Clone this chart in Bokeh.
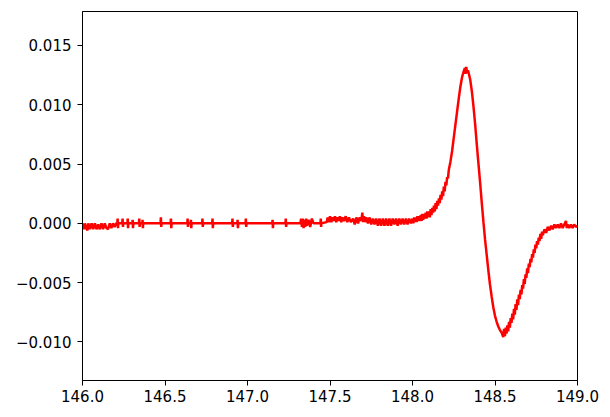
from bokeh.plotting import figure
from bokeh.models import FixedTicker, Range1d
from bokeh.embed import file_html
from bokeh.resources import INLINE

# ---- data (field in mT, signal in a.u.) ----
# segment 1: flat baseline with isolated noise spikes (146.0 - 148.0)
field_base = [
    146.000, 146.005, 146.010, 146.015, 146.020, 146.030, 146.035, 146.045, 146.055, 146.065,
    146.075, 146.085, 146.095, 146.105, 146.115, 146.125, 146.135, 146.145, 146.155, 146.165,
    146.175, 146.185, 146.195, 146.205,
    146.211, 146.213, 146.215, 146.217,
    146.241, 146.243, 146.245, 146.247,
    146.272, 146.274, 146.276, 146.278,
    146.302, 146.304, 146.306, 146.308,
    146.342, 146.344, 146.346, 146.348,
    146.362, 146.364, 146.366, 146.368,
    146.473, 146.475, 146.477, 146.479,
    146.534, 146.536, 146.538, 146.540,
    146.635, 146.637, 146.639, 146.641,
    146.655, 146.657, 146.659, 146.661,
    146.725, 146.727, 146.729, 146.731,
    146.786, 146.788, 146.790, 146.792,
    146.907, 146.909, 146.911, 146.913,
    146.938, 146.940, 146.942, 146.944,
    146.988, 146.990, 146.992, 146.994,
    147.150, 147.152, 147.154, 147.156,
    147.230, 147.232, 147.234, 147.236,
    147.320, 147.325, 147.330, 147.335, 147.340, 147.345, 147.350, 147.355, 147.360, 147.370,
    147.380, 147.390, 147.400,
    147.442, 147.444, 147.446, 147.448,
    147.480, 147.486, 147.492, 147.500, 147.508, 147.515, 147.522, 147.530, 147.538, 147.545,
    147.552, 147.560, 147.568, 147.575, 147.585, 147.595, 147.605, 147.615, 147.626,
    147.640, 147.650, 147.660, 147.670, 147.680, 147.690, 147.696, 147.700, 147.706, 147.712,
    147.720, 147.730, 147.740, 147.750, 147.760, 147.770, 147.780,
    147.790, 147.800, 147.810, 147.820, 147.830, 147.840, 147.850, 147.860, 147.870,
    147.880, 147.890, 147.900, 147.910, 147.920, 147.930, 147.940, 147.950, 147.960, 147.970,
    147.980, 147.990,
]
signal_base = [
    -0.0005, 0.0000, -0.0005, 0.0000, -0.0003, -0.0006, 0.0000, -0.0005, 0.0000, -0.0005,
    0.0000, -0.0005, -0.0001, -0.0005, 0.0000, -0.0005, 0.0000, -0.0004, -0.0005, 0.0000,
    -0.0004, 0.0000, -0.0003, 0.0000,
    0.0000, 0.0004, -0.0004, 0.0000,
    0.0000, 0.0004, -0.0003, 0.0000,
    0.0000, 0.0004, -0.0004, 0.0000,
    0.0000, 0.0003, -0.0004, 0.0000,
    0.0000, 0.0004, -0.0003, 0.0000,
    0.0000, 0.0003, -0.0004, 0.0000,
    0.0000, 0.0005, -0.0003, 0.0000,
    0.0000, 0.0004, -0.0004, 0.0000,
    0.0000, 0.0004, -0.0003, 0.0000,
    0.0000, 0.0003, -0.0004, 0.0000,
    0.0000, 0.0004, -0.0003, 0.0000,
    0.0000, 0.0004, -0.0004, 0.0000,
    0.0000, 0.0004, -0.0003, 0.0000,
    0.0000, 0.0003, -0.0004, 0.0000,
    0.0000, 0.0004, -0.0003, 0.0000,
    0.0000, 0.0003, -0.0004, 0.0000,
    0.0000, 0.0004, -0.0003, 0.0000,
    0.0000, 0.0004, -0.0003, 0.0004, -0.0004, 0.0003, -0.0003, 0.0004, -0.0002, 0.0003,
    -0.0003, 0.0004, 0.0000,
    0.0000, 0.0004, -0.0003, 0.0000,
    0.0001, 0.0005, 0.0001, 0.0006, 0.0001, 0.0005, 0.0002, 0.0006, 0.0001, 0.0005,
    0.0002, 0.0006, 0.0001, 0.0005, 0.0002, 0.0006, 0.0001, 0.0005, 0.0001,
    0.0004, -0.0001, 0.0005, 0.0000, 0.0005, 0.0002, 0.0009, 0.0001, 0.0006, 0.0001,
    0.0005, 0.0000, 0.0005, -0.0001, 0.0004, -0.0001, 0.0004,
    -0.0002, 0.0004, -0.0002, 0.0004, -0.0002, 0.0004, -0.0002, 0.0004, -0.0002,
    0.0004, -0.0001, 0.0004, -0.0002, 0.0004, -0.0001, 0.0004, -0.0001, 0.0004, -0.0001,
    0.0004, 0.0000,
]

# segment 2: noisy rise towards the positive lobe (148.0 - 148.24)
field_rise = [
    148.000, 148.005, 148.010, 148.015, 148.020, 148.025, 148.030, 148.035, 148.040, 148.045,
    148.050, 148.055, 148.060, 148.065, 148.070, 148.075, 148.080, 148.085, 148.090, 148.095,
    148.100, 148.105, 148.110, 148.115, 148.120, 148.125, 148.130, 148.135, 148.140, 148.145,
    148.150, 148.155, 148.160, 148.165, 148.170, 148.175, 148.180, 148.185, 148.190, 148.195,
    148.200, 148.205, 148.210, 148.215, 148.220, 148.230, 148.240,
]
signal_rise = [
    0.0004, 0.0000, 0.0005, 0.0001, 0.0005, 0.0001, 0.0006, 0.0002, 0.0006, 0.0002,
    0.0007, 0.0002, 0.0008, 0.0003, 0.0008, 0.0004, 0.0009, 0.0004, 0.0010, 0.0005,
    0.0010, 0.0005, 0.0012, 0.0007, 0.0013, 0.0009, 0.0015, 0.0010, 0.0017, 0.0012,
    0.0019, 0.0015, 0.0021, 0.0017, 0.0024, 0.0020, 0.0027, 0.0023, 0.0031, 0.0027,
    0.0035, 0.0032, 0.0039, 0.0038, 0.0045, 0.0052, 0.0061,
]

# segment 3: positive peak, steep fall and negative lobe (148.25 - 148.545)
field_peak = [
    148.250, 148.260, 148.270, 148.280, 148.290, 148.300, 148.310, 148.318, 148.322, 148.326,
    148.330, 148.336, 148.340, 148.350, 148.360, 148.370, 148.380, 148.390, 148.400, 148.410,
    148.420, 148.430, 148.440, 148.450, 148.460, 148.470, 148.480, 148.490, 148.500, 148.510,
    148.520, 148.530, 148.540, 148.545,
]
signal_peak = [
    0.0072, 0.0083, 0.0094, 0.0105, 0.0115, 0.0123, 0.0128, 0.0131, 0.0126, 0.0132,
    0.0127, 0.0129, 0.0127, 0.0121, 0.0111, 0.0098, 0.0083, 0.0066, 0.0050, 0.0034,
    0.0017, 0.0001, -0.0014, -0.0027, -0.0040, -0.0052, -0.0062, -0.0071, -0.0078, -0.0083,
    -0.0087, -0.0090, -0.0092, -0.0094,
]

# segment 4: noisy recovery to the baseline (148.55 - 149.0)
field_tail = [
    148.550, 148.555, 148.560, 148.565, 148.570, 148.575, 148.580, 148.585, 148.590, 148.595,
    148.600, 148.605, 148.610, 148.615, 148.620, 148.625, 148.630, 148.635, 148.640, 148.645,
    148.650, 148.655, 148.660, 148.665, 148.670, 148.675, 148.680, 148.685, 148.690, 148.695,
    148.700, 148.705, 148.710, 148.715, 148.720, 148.725, 148.730, 148.735, 148.740, 148.745,
    148.750, 148.755, 148.760, 148.765, 148.770, 148.775, 148.780, 148.785, 148.790, 148.800,
    148.810, 148.820, 148.830, 148.840, 148.850, 148.860, 148.870, 148.880, 148.890, 148.900,
    148.910, 148.920, 148.930, 148.935, 148.940, 148.950, 148.960, 148.970, 148.980, 148.990,
    149.000,
]
signal_tail = [
    -0.0096, -0.0089, -0.0095, -0.0088, -0.0093, -0.0086, -0.0091, -0.0083, -0.0088, -0.0080,
    -0.0084, -0.0076, -0.0081, -0.0072, -0.0077, -0.0068, -0.0073, -0.0064, -0.0069, -0.0060,
    -0.0064, -0.0056, -0.0060, -0.0052, -0.0055, -0.0047, -0.0051, -0.0043, -0.0046, -0.0038,
    -0.0042, -0.0034, -0.0037, -0.0030, -0.0033, -0.0026, -0.0029, -0.0022, -0.0025, -0.0018,
    -0.0021, -0.0015, -0.0018, -0.0012, -0.0015, -0.0009, -0.0013, -0.0007, -0.0010, -0.0005,
    -0.0008, -0.0003, -0.0006, -0.0002, -0.0005, -0.0001, -0.0004, -0.0001, -0.0004, 0.0000,
    -0.0004, -0.0001, 0.0002, -0.0004, -0.0001, -0.0004, -0.0001, -0.0004, -0.0001, -0.0003,
    -0.0002,
]

x_ticks = [146.0, 146.5, 147.0, 147.5, 148.0, 148.5, 149.0]
x_tick_labels = ["146.0", "146.5", "147.0", "147.5", "148.0", "148.5", "149.0"]
y_ticks = [-0.010, -0.005, 0.000, 0.005, 0.010, 0.015]
y_tick_labels = ["\u22120.010", "\u22120.005", "0.000", "0.005", "0.010", "0.015"]

field = field_base + field_rise + field_peak + field_tail
signal = signal_base + signal_rise + signal_peak + signal_tail

FONT = "DejaVu Sans"

p = figure(width=602, height=409, output_backend="svg", toolbar_location=None,
           x_range=Range1d(146.0, 149.0), y_range=Range1d(-0.01325, 0.01786),
           min_border_left=82, min_border_right=25, min_border_top=11, min_border_bottom=29)

p.line(field, signal, line_color="#ff0000", line_width=2.5)

p.xgrid.visible = False
p.ygrid.visible = False
p.outline_line_color = "black"
p.outline_line_width = 1
p.background_fill_color = "white"
p.border_fill_color = "white"

p.xaxis.ticker = FixedTicker(ticks=x_ticks)
p.xaxis.major_label_overrides = {t: l for t, l in zip(x_ticks, x_tick_labels)}
p.yaxis.ticker = FixedTicker(ticks=y_ticks)
p.yaxis.major_label_overrides = {t: l for t, l in zip(y_ticks, y_tick_labels)}

for ax in (p.xaxis[0], p.yaxis[0]):
    ax.major_label_text_font = FONT
    ax.major_label_text_font_size = "15px"
    ax.major_label_text_color = "black"
    ax.axis_line_color = "black"
    ax.major_tick_line_color = "black"
    ax.major_tick_out = 5
    ax.major_tick_in = 0
    ax.minor_tick_line_color = None
    ax.major_label_standoff = 6

p.xaxis.major_label_standoff = 4

open("out.html", "w").write(file_html(p, INLINE))
